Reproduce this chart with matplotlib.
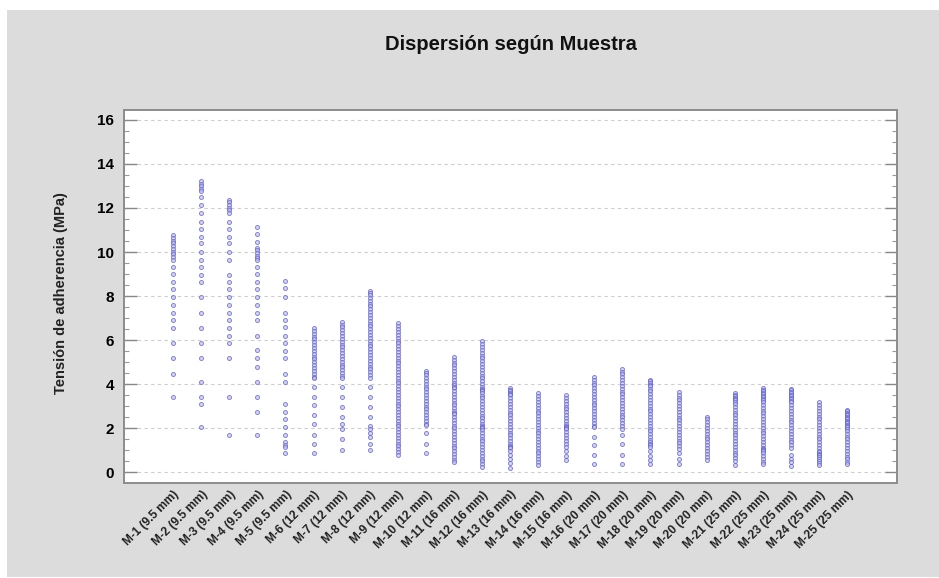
"""Dispersion chart of bond stress per sample"""
import numpy as np
from matplotlib import pyplot as plt
from matplotlib.patches import Rectangle
from matplotlib.ticker import MultipleLocator
import matplotlib.transforms as mtransforms

samples = [
    "M-1 (9.5 mm)", "M-2 (9.5 mm)", "M-3 (9.5 mm)", "M-4 (9.5 mm)", "M-5 (9.5 mm)",
    "M-6 (12 mm)", "M-7 (12 mm)", "M-8 (12 mm)", "M-9 (12 mm)", "M-10 (12 mm)",
    "M-11 (16 mm)", "M-12 (16 mm)", "M-13 (16 mm)", "M-14 (16 mm)", "M-15 (16 mm)",
    "M-16 (20 mm)", "M-17 (20 mm)", "M-18 (20 mm)", "M-19 (20 mm)", "M-20 (20 mm)",
    "M-21 (25 mm)", "M-22 (25 mm)", "M-23 (25 mm)", "M-24 (25 mm)", "M-25 (25 mm)",
]

# tension de adherencia (MPa)
m01 = [10.78, 10.65, 10.52, 10.4, 10.28, 10.15, 10.02, 9.9, 9.78, 9.65, 9.33, 9.0, 8.65,
       8.3, 7.97, 7.6, 7.24, 6.9, 6.53, 5.88, 5.17, 4.48, 3.42]
m02 = [13.22, 13.1, 12.98, 12.86, 12.75, 12.5, 12.14, 11.76, 11.38, 11.03, 10.7, 10.4, 10.0,
       9.64, 9.3, 8.95, 8.65, 7.97, 7.24, 6.53, 5.88, 5.17, 4.1, 3.42, 3.09, 2.06]
m03 = [12.38, 12.26, 12.14, 12.02, 11.9, 11.76, 11.38, 11.03, 10.7, 10.4, 10.0, 9.64, 8.95,
       8.65, 8.3, 7.97, 7.6, 7.24, 6.9, 6.53, 6.2, 5.88, 5.17, 3.42, 1.68]
m04 = [11.15, 10.82, 10.47, 10.2, 10.08, 9.96, 9.84, 9.72, 9.64, 9.33, 9.0, 8.65, 8.3, 7.97,
       7.6, 7.24, 6.9, 6.2, 5.55, 5.17, 4.79, 4.1, 3.42, 2.74, 1.68]
m05 = [8.7, 8.35, 7.97, 7.24, 6.9, 6.58, 6.2, 5.88, 5.5, 5.17, 4.48, 4.1, 3.09, 2.74, 2.4,
       2.06, 1.68, 1.38, 1.25, 1.15, 0.85]
m06 = [6.55, 6.42, 6.29, 6.16, 6.03, 5.9, 5.77, 5.64, 5.51, 5.38, 5.25, 5.12, 4.99, 4.86,
       4.73, 4.6, 4.47, 4.34, 4.26, 3.88, 3.42, 3.05, 2.6, 2.2, 1.68, 1.3, 0.85]
m07 = [6.8, 6.7, 6.58, 6.45, 6.32, 6.19, 6.06, 5.93, 5.8, 5.67, 5.54, 5.41, 5.28, 5.15, 5.02,
       4.89, 4.76, 4.63, 4.5, 4.37, 4.27, 3.88, 3.42, 2.97, 2.5, 2.2, 1.98, 1.53, 1.0]
m08 = [8.22, 8.15, 8.05, 7.92, 7.79, 7.66, 7.53, 7.4, 7.27, 7.14, 7.01, 6.88, 6.75, 6.62,
       6.49, 6.36, 6.23, 6.1, 5.97, 5.84, 5.71, 5.58, 5.45, 5.32, 5.19, 5.06, 4.93, 4.8, 4.67,
       4.54, 4.41, 4.28, 3.88, 3.42, 2.97, 2.5, 2.12, 1.98, 1.76, 1.6, 1.3, 1.0]
m09 = [6.76, 6.63, 6.5, 6.37, 6.24, 6.11, 5.98, 5.85, 5.72, 5.59, 5.46, 5.33, 5.2, 5.07, 4.94,
       4.81, 4.68, 4.55, 4.42, 4.29, 4.16, 4.03, 3.9, 3.77, 3.64, 3.51, 3.38, 3.25, 3.12, 2.99,
       2.86, 2.73, 2.6, 2.47, 2.34, 2.21, 2.08, 1.95, 1.82, 1.69, 1.56, 1.43, 1.3, 1.17, 1.04,
       0.91, 0.78]
m10 = [4.58, 4.5, 4.4, 4.28, 4.15, 4.02, 3.89, 3.76, 3.63, 3.5, 3.37, 3.24, 3.11, 2.98, 2.85,
       2.72, 2.59, 2.46, 2.33, 2.2, 2.14, 1.76, 1.3, 0.85]
m11 = [5.24, 5.11, 4.98, 4.85, 4.72, 4.59, 4.46, 4.33, 4.2, 4.07, 3.94, 3.88, 3.81, 3.68, 3.55,
       3.42, 3.29, 3.16, 3.03, 2.9, 2.77, 2.68, 2.64, 2.51, 2.38, 2.25, 2.12, 1.99, 1.86, 1.73,
       1.6, 1.47, 1.34, 1.21, 1.08, 0.95, 0.82, 0.69, 0.56, 0.47]
m12 = [5.95, 5.82, 5.69, 5.56, 5.43, 5.3, 5.17, 5.04, 4.91, 4.78, 4.65, 4.52, 4.39, 4.26,
       4.13, 4.0, 3.87, 3.8, 3.74, 3.68, 3.61, 3.48, 3.35, 3.22, 3.09, 2.96, 2.83, 2.7, 2.57,
       2.44, 2.31, 2.18, 2.1, 2.05, 2.0, 1.92, 1.79, 1.66, 1.53, 1.4, 1.27, 1.14, 1.01, 0.88,
       0.75, 0.62, 0.49, 0.36, 0.24]
m13 = [3.82, 3.75, 3.69, 3.62, 3.56, 3.49, 3.36, 3.23, 3.1, 2.97, 2.84, 2.71, 2.58, 2.45,
       2.32, 2.19, 2.06, 1.93, 1.8, 1.67, 1.54, 1.41, 1.28, 1.18, 1.15, 1.12, 0.95, 0.78, 0.6,
       0.4, 0.17]
m14 = [3.58, 3.45, 3.32, 3.19, 3.06, 2.93, 2.8, 2.67, 2.54, 2.41, 2.28, 2.15, 2.02, 1.89,
       1.76, 1.63, 1.5, 1.37, 1.24, 1.11, 0.98, 0.85, 0.72, 0.59, 0.46, 0.32]
m15 = [3.5, 3.37, 3.24, 3.11, 2.98, 2.85, 2.72, 2.59, 2.46, 2.33, 2.2, 2.1, 2.06, 2.0, 1.94,
       1.81, 1.68, 1.55, 1.42, 1.29, 1.16, 0.95, 0.75, 0.55]
m16 = [4.33, 4.2, 4.07, 3.94, 3.81, 3.68, 3.55, 3.42, 3.29, 3.16, 3.03, 2.9, 2.77, 2.64, 2.51,
       2.38, 2.25, 2.12, 2.06, 1.6, 1.23, 0.77, 0.39]
m17 = [4.7, 4.57, 4.44, 4.31, 4.18, 4.05, 3.92, 3.79, 3.66, 3.53, 3.4, 3.27, 3.14, 3.01,
       2.88, 2.75, 2.62, 2.49, 2.36, 2.23, 2.1, 1.98, 1.68, 1.3, 0.77, 0.39]
m18 = [4.2, 4.12, 4.05, 3.98, 3.9, 3.8, 3.67, 3.54, 3.41, 3.28, 3.15, 3.02, 2.89, 2.76, 2.63,
       2.5, 2.37, 2.24, 2.11, 1.98, 1.85, 1.72, 1.59, 1.46, 1.35, 1.3, 1.25, 1.15, 0.95, 0.75,
       0.55, 0.39]
m19 = [3.65, 3.52, 3.39, 3.26, 3.13, 3.0, 2.87, 2.74, 2.61, 2.48, 2.35, 2.22, 2.09, 1.96,
       1.83, 1.7, 1.57, 1.44, 1.31, 1.18, 1.05, 0.85, 0.6, 0.39]
m20 = [2.53, 2.4, 2.27, 2.14, 2.01, 1.88, 1.75, 1.62, 1.49, 1.36, 1.23, 1.1, 0.97, 0.84, 0.7,
       0.55]
m21 = [3.58, 3.5, 3.44, 3.38, 3.32, 3.26, 3.2, 3.1, 2.97, 2.84, 2.71, 2.58, 2.45, 2.32, 2.19,
       2.06, 1.93, 1.8, 1.67, 1.54, 1.41, 1.28, 1.15, 1.02, 0.89, 0.76, 0.63, 0.5, 0.32]
m22 = [3.82, 3.75, 3.68, 3.61, 3.54, 3.47, 3.4, 3.33, 3.26, 3.19, 3.06, 2.93, 2.8, 2.67,
       2.54, 2.41, 2.28, 2.15, 2.02, 1.89, 1.76, 1.63, 1.5, 1.37, 1.24, 1.11, 1.04, 1.0, 0.96,
       0.85, 0.72, 0.59, 0.46, 0.39]
m23 = [3.8, 3.73, 3.66, 3.59, 3.52, 3.45, 3.38, 3.31, 3.24, 3.17, 3.04, 2.91, 2.78, 2.65,
       2.52, 2.39, 2.26, 2.13, 2.0, 1.87, 1.74, 1.61, 1.48, 1.35, 1.22, 1.09, 0.77, 0.6, 0.45,
       0.3]
m24 = [3.18, 3.05, 2.92, 2.79, 2.66, 2.53, 2.4, 2.27, 2.14, 2.01, 1.88, 1.75, 1.62, 1.49,
       1.36, 1.23, 1.1, 0.97, 0.9, 0.84, 0.8, 0.76, 0.7, 0.62, 0.5, 0.4, 0.32]
m25 = [2.82, 2.76, 2.7, 2.64, 2.58, 2.52, 2.46, 2.4, 2.34, 2.28, 2.22, 2.16, 2.1, 2.04, 1.98,
       1.88, 1.75, 1.62, 1.49, 1.36, 1.23, 1.1, 0.97, 0.84, 0.71, 0.58, 0.45, 0.39]

values = [m01, m02, m03, m04, m05, m06, m07, m08, m09, m10, m11, m12, m13,
          m14, m15, m16, m17, m18, m19, m20, m21, m22, m23, m24, m25]


def draw():
    """Draws the strip plot and saves it"""
    plt.rcParams['font.family'] = ['Liberation Sans', 'DejaVu Sans']
    plt.rcParams['font.weight'] = 'bold'

    fig = plt.figure(figsize=(9.39, 5.78), dpi=100, facecolor='white')
    # grey panel behind everything
    fig.patches.append(Rectangle((7 / 939, 1 / 578), 932 / 939, 567 / 578,
                                 transform=fig.transFigure, facecolor='#dcdcdc',
                                 edgecolor='none', zorder=-10))

    ax = fig.add_axes([124 / 939, (578 - 483) / 578, 773 / 939, 373 / 578])
    ax.set_facecolor('white')

    for i, vals in enumerate(values, start=1):
        ax.plot(np.full(len(vals), i), vals, 'o', ms=2.9, mew=0.7,
                mec='#5a5acc', mfc='#c4c4f2', alpha=0.7, zorder=3)

    ax.set_xlim(-0.75, 26.78)
    ax.set_ylim(-0.49, 16.45)
    ax.yaxis.set_major_locator(MultipleLocator(2))
    ax.yaxis.set_minor_locator(MultipleLocator(0.5))
    ax.set_xticks(range(1, len(samples) + 1))
    ax.set_xticklabels(samples, rotation=45, ha='right', rotation_mode='anchor',
                       fontsize=8.6, fontweight='bold', color='#222222')
    offset = mtransforms.ScaledTranslation(11 / 100, -4 / 100, fig.dpi_scale_trans)
    for lab in ax.get_xticklabels():
        lab.set_transform(lab.get_transform() + offset)

    ax.tick_params(axis='x', length=0, pad=4)
    ax.tick_params(axis='y', which='major', direction='in', length=9, width=1,
                   color='#888888', left=True, right=True, labelsize=11, pad=7)
    ax.tick_params(axis='y', which='minor', direction='in', length=3.5, width=0.8,
                   color='#999999', left=True, right=True)
    for lab in ax.get_yticklabels():
        lab.set_fontweight('bold')

    ax.grid(axis='y', which='major', linestyle=(0, (3, 3)), color='#cdcdcd', lw=0.8)
    for spine in ax.spines.values():
        spine.set_color('#8c8c8c')
        spine.set_linewidth(1.4)

    fig.text(511 / 939, 1 - 45 / 578, 'Dispersión según Muestra', ha='center',
             va='center', fontsize=14.5, fontweight='bold', color='#111111')
    fig.text(61 / 939, 1 - 293 / 578, 'Tensión de adherencia (MPa)', ha='center',
             va='center', rotation=90, fontsize=10.5, fontweight='bold', color='#222222')

    fig.savefig('out.png', dpi=100, facecolor='white')


if __name__ == "__main__":
    draw()
